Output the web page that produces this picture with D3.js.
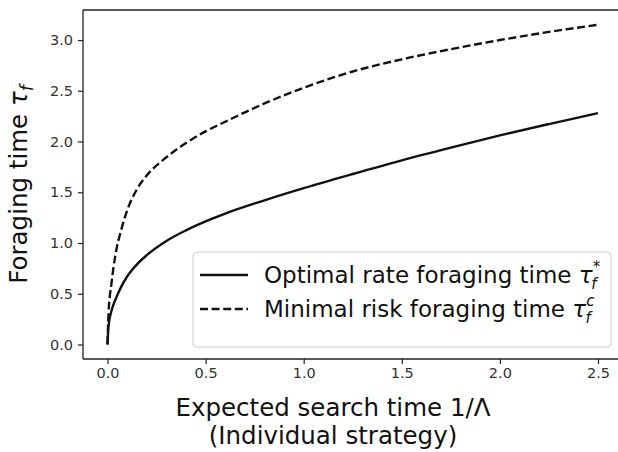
<!DOCTYPE html>
<html><head><meta charset="utf-8">
<script src="https://cdn.jsdelivr.net/npm/d3@7"></script>
<style>html,body{margin:0;padding:0;background:#fff;overflow:hidden;} svg{display:block;font-family:"DejaVu Sans",sans-serif;}</style>
</head><body>
<svg id="c" width="618" height="452"></svg>
<script>
const searchTime = [0, 0.005, 0.02, 0.04, 0.07, 0.1, 0.15, 0.2, 0.3, 0.4, 0.5, 0.6, 0.8, 1.0, 1.25, 1.5, 1.75, 2.0, 2.25, 2.5];
const optimalRate = [0.0, 0.18, 0.33, 0.44, 0.57, 0.67, 0.79, 0.88, 1.02, 1.125, 1.213, 1.29, 1.42, 1.54, 1.68, 1.815, 1.94, 2.06, 2.172, 2.28];
const minimalRisk = [0.0, 0.3, 0.6, 0.88, 1.13, 1.32, 1.53, 1.665, 1.845, 1.985, 2.10, 2.195, 2.375, 2.53, 2.69, 2.81, 2.91, 3.00, 3.08, 3.15];
const xTicks = [0.0, 0.5, 1.0, 1.5, 2.0, 2.5];
const yTicks = [0.0, 0.5, 1.0, 1.5, 2.0, 2.5, 3.0];

const svg = d3.select("#c");
const L = 83, R = 622.5, T = 10, B = 359;
const x = d3.scaleLinear().domain([-0.125, 2.625]).range([L, R]);
const y = d3.scaleLinear().domain([-0.143, 3.296]).range([B, T]);

const fmt = d3.format(".1f");
const gx = svg.append("g").attr("transform", `translate(0,${B})`)
  .call(d3.axisBottom(x).tickValues(xTicks).tickFormat(fmt).tickSizeOuter(0).tickSize(5).tickPadding(4));
const gy = svg.append("g").attr("transform", `translate(${L},0)`)
  .call(d3.axisLeft(y).tickValues(yTicks).tickFormat(fmt).tickSizeOuter(0).tickSize(5).tickPadding(5));
[gx, gy].forEach(g => {
  g.selectAll("text").attr("font-size", 14.5).attr("fill", "#333").attr("font-family", "DejaVu Sans");
  g.selectAll("line").attr("stroke", "#222").attr("stroke-width", 1.2);
  g.select(".domain").remove();
});
// spines (left, top, bottom; right spine lies outside the picture)
const sp = svg.append("g").attr("stroke", "#222").attr("stroke-width", 1.3);
sp.append("line").attr("x1", L).attr("x2", L).attr("y1", T).attr("y2", B);
sp.append("line").attr("x1", L).attr("x2", 640).attr("y1", T).attr("y2", T);
sp.append("line").attr("x1", L).attr("x2", 640).attr("y1", B).attr("y2", B);

const line = d3.line().x(d => x(d[0])).y(d => y(d[1])).curve(d3.curveMonotoneX);
const sData = searchTime.map((t, i) => [t, optimalRate[i]]);
const dData = searchTime.map((t, i) => [t, minimalRisk[i]]);
svg.append("path").attr("d", line(dData)).attr("fill", "none").attr("stroke", "#111")
  .attr("stroke-width", 2.4).attr("stroke-dasharray", "8,3.6");
svg.append("path").attr("d", line(sData)).attr("fill", "none").attr("stroke", "#111")
  .attr("stroke-width", 2.4);

// legend
const lg = svg.append("g");
lg.append("rect").attr("x", 193).attr("y", 252).attr("width", 418).attr("height", 95)
  .attr("rx", 4).attr("fill", "#fff").attr("fill-opacity", 0.8).attr("stroke", "#ccc").attr("stroke-width", 1);
const items = [
  {label: "Optimal rate foraging time ", sup: "*", dash: null, y: 275},
  {label: "Minimal risk foraging time ", sup: "c", dash: "8,3.6", y: 309}
];
items.forEach(it => {
  lg.append("line").attr("x1", 200).attr("x2", 248).attr("y1", it.y).attr("y2", it.y)
    .attr("stroke", "#111").attr("stroke-width", 2.4).attr("stroke-dasharray", it.dash);
  const t = lg.append("text").attr("x", 264).attr("y", it.y + 8).attr("font-size", 23).attr("fill", "#111");
  t.append("tspan").text(it.label);
  t.append("tspan").attr("font-style", "italic").text("τ");
  t.append("tspan").attr("font-size", 15).attr("font-style", "italic").attr("dy", -11).text(it.sup);
  t.append("tspan").attr("font-size", 15).attr("font-style", "italic").attr("dx", -9).attr("dy", 17).text("f");
});

// axis labels
const xl = svg.append("text").attr("text-anchor", "middle").attr("font-size", 24.5).attr("fill", "#111");
xl.append("tspan").attr("x", 333).attr("y", 416).text("Expected search time 1/Λ");
xl.append("tspan").attr("x", 333).attr("y", 444).text("(Individual strategy)");

const yl = svg.append("text").attr("text-anchor", "middle").attr("font-size", 24.5).attr("fill", "#111")
  .attr("transform", `translate(27,${(T + B) / 2}) rotate(-90)`);
yl.append("tspan").text("Foraging time ");
yl.append("tspan").attr("font-style", "italic").text("τ");
yl.append("tspan").attr("font-style", "italic").attr("font-size", 17).attr("dy", 6).text("f");
</script>
</body></html>
